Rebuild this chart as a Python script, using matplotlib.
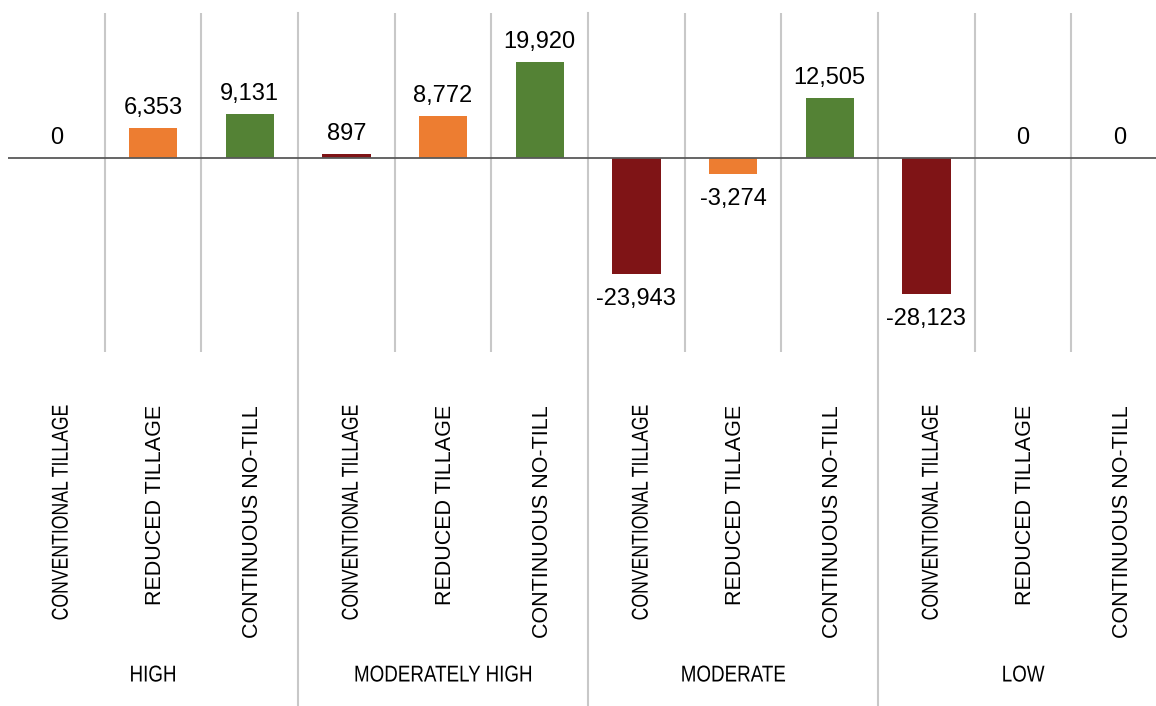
import numpy as np
import matplotlib
matplotlib.use("Agg")
import matplotlib.pyplot as plt
import matplotlib.transforms as mtransforms
from matplotlib.lines import Line2D
from matplotlib import patheffects

plt.rcParams['font.family'] = ['Liberation Sans', 'DejaVu Sans']

# data
groups = ["HIGH", "MODERATELY HIGH", "MODERATE", "LOW"]
practices = ["CONVENTIONAL TILLAGE", "REDUCED TILLAGE", "CONTINUOUS NO-TILL"]
values = [0, 6353, 9131,
          897, 8772, 19920,
          -23943, -3274, 12505,
          -28123, 0, 0]
practice_colors = ["#7f1416", "#ed7d31", "#548235"]


class Squeeze(patheffects.AbstractPathEffect):
    """narrow the glyphs along the reading direction (no narrow font here)"""
    def __init__(self, sx, anchor=0.5):
        super().__init__()
        self.sx = sx
        self.anchor = anchor

    def draw_path(self, renderer, gc, tpath, affine, rgbFace=None):
        ext = tpath.get_extents()
        piv = ext.x0 + self.anchor * (ext.x1 - ext.x0)
        t = (mtransforms.Affine2D().translate(-piv, 0).scale(self.sx, 1)
             .translate(piv, 0) + affine)
        renderer.draw_path(gc, tpath, t, rgbFace)


n = len(values)
x = np.arange(n)
colors = [practice_colors[i % 3] for i in range(n)]

W, H = 1156, 706
fig = plt.figure(figsize=(W / 100, H / 100), dpi=100)
# axes runs a bit past the right edge, like the source image
ax = fig.add_axes([8 / W, (H - 352) / H, 1160 / W, 339 / H])
ax.set_xlim(-0.5, n - 0.5)
ax.set_ylim(-40000, 30000)
ax.axis("off")

ax.bar(x, values, width=0.5, color=colors, zorder=3)
ax.axhline(0, color="#595959", lw=1.3, zorder=4)

# category separators inside the plot, group separators run to the bottom
trans = mtransforms.blended_transform_factory(ax.transData, ax.transAxes)
bottom = -(H - 352) / 339
for b in np.arange(0.5, n - 0.5, 1.0):
    if int(b + 0.5) % 3 == 0:
        ln = Line2D([b, b], [1, bottom], transform=trans, color="#c8c8c8",
                    lw=1.5, clip_on=False)
        ax.add_line(ln)
    else:
        ax.axvline(b, color="#c8c8c8", lw=1.5, zorder=1)

# value labels
for xi, v in zip(x, values):
    txt = f"{v:,}"
    if v >= 0:
        ax.annotate(txt, (xi, v), xytext=(0, 10), textcoords="offset points",
                    ha="center", va="baseline", fontsize=17)
    else:
        ax.annotate(txt, (xi, v), xytext=(0, -10), textcoords="offset points",
                    ha="center", va="top", fontsize=17)

# rotated practice labels
label_y = -(405 - 352) / 339
for xi in x:
    name = practices[xi % 3]
    if xi % 3 == 0:
        ax.text(xi + 0.05, label_y, name, transform=trans, rotation=90,
                ha="center", va="top", fontsize=16.5,
                path_effects=[Squeeze(0.77, anchor=1.0)])
    else:
        ax.text(xi + 0.03, label_y, name, transform=trans, rotation=90,
                ha="center", va="top", fontsize=15.5)

# group labels
group_y = -(675 - 352) / 339
for gi, g in enumerate(groups):
    ax.text(gi * 3 + 1, group_y, g, transform=trans, ha="center",
            va="center", fontsize=16.5, path_effects=[Squeeze(0.82)])

fig.savefig("out.png", dpi=100)
